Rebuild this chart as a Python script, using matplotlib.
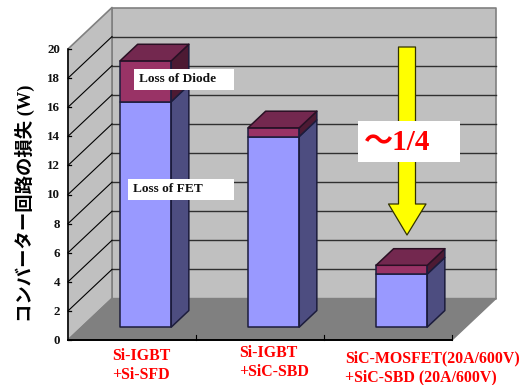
import matplotlib
matplotlib.use('Agg')
import matplotlib.pyplot as plt
from matplotlib.patches import Polygon, Rectangle

categories = ['Si-IGBT\n+Si-SFD', 'Si-IGBT\n+SiC-SBD', 'SiC-MOSFET(20A/600V)\n+SiC-SBD (20A/600V)']
fet_loss = [15.5, 13.1, 3.65]
diode_loss = [2.8, 0.6, 0.6]
y_ticks = [0, 2, 4, 6, 8, 10, 12, 14, 16, 18, 20]

SERIF = 'Liberation Serif'
MIXED = ['Liberation Serif', 'Noto Sans CJK JP']

# chart box in pixels: front bottom left corner, size of one category/one unit, depth shift
X0, Y0 = 68.0, 340.0
CAT_W = 128.0
UNIT = 14.55
DEPTH_X, DEPTH_Y = 44.0, 41.5
BAR_W = 0.4
D1, D2 = 0.31, 0.71


def pr(cat, val, depth=0.0):
    return (X0 + cat * CAT_W + depth * DEPTH_X, Y0 - val * UNIT - depth * DEPTH_Y)


def poly(ax, pts, fc, ec='none', lw=0.0, z=2):
    ax.add_patch(Polygon(pts, closed=True, facecolor=fc, edgecolor=ec, linewidth=lw, zorder=z, joinstyle='round'))


def box_3d(ax, i, low, high, front, side, top, z):
    a, b = i + 0.5 - BAR_W / 2, i + 0.5 + BAR_W / 2
    poly(ax, [pr(a, low, D1), pr(b, low, D1), pr(b, high, D1), pr(a, high, D1)], front, '#1c1c3c', 1.1, z)
    poly(ax, [pr(b, low, D1), pr(b, low, D2), pr(b, high, D2), pr(b, high, D1)], side, '#1c1c3c', 1.1, z)
    if top:
        poly(ax, [pr(a, high, D1), pr(b, high, D1), pr(b, high, D2), pr(a, high, D2)], top, '#2a1024', 1.1, z)


fig = plt.figure(figsize=(5.31, 3.85), dpi=100)
ax = fig.add_axes([0, 0, 1, 1])
ax.set_xlim(0, 531)
ax.set_ylim(385, 0)
ax.axis('off')

# walls and floor
top = y_ticks[-1]
poly(ax, [pr(0, 0, 1), pr(3, 0, 1), pr(3, top, 1), pr(0, top, 1)], '#c0c0c0', '#808080', 1.2, 1)
poly(ax, [pr(0, 0, 0), pr(0, 0, 1), pr(0, top, 1), pr(0, top, 0)], '#c0c0c0', '#808080', 1.2, 1)
poly(ax, [pr(0, 0, 0), pr(3, 0, 0), pr(3, 0, 1), pr(0, 0, 1)], '#808080', '#808080', 1.0, 1)

for v in y_ticks[1:-1]:
    xs, ys = zip(pr(0, v, 1), pr(3, v, 1))
    ax.plot(xs, ys, color='#303030', lw=1.0, zorder=1.5)
for v in y_ticks[1:-1]:
    xs, ys = zip(pr(0, v, 0), pr(0, v, 1))
    ax.plot(xs, ys, color='black', lw=0.8, zorder=1.5)

# axes
xs, ys = zip(pr(0, 0), pr(0, top))
ax.plot(xs, ys, color='black', lw=1.1, zorder=1.6)
xs, ys = zip(pr(0, 0), pr(3, 0))
ax.plot(xs, ys, color='black', lw=1.4, zorder=1.6)
for i in range(1, 4):
    x, y = pr(i, 0)
    ax.plot([x, x], [y, y - 5], color='black', lw=0.8, zorder=1.6)
for v in y_ticks:
    x, y = pr(0, v)
    ax.plot([x, x + 3], [y, y], color='black', lw=0.9, zorder=1.6)
    ax.text(x - 8, y + 1, str(v), ha='right', va='center', family=SERIF, weight='bold', fontsize=9.4, color='#111111', zorder=5)

# bars
for i in range(len(categories)):
    total = fet_loss[i] + diode_loss[i]
    box_3d(ax, i, 0, fet_loss[i], '#9999ff', '#4d4d80', None, 3 + i)
    box_3d(ax, i, fet_loss[i], total, '#993366', '#4d1a33', '#73284f', 3 + i)

# category labels
for label, lx, ly in zip(categories, [112, 239, 345], [365.5, 362.5, 368]):
    ax.text(lx, ly, label, ha='left', va='center', multialignment='left', family=SERIF, weight='bold',
            fontsize=11.4, color='#ff0000', linespacing=1.25, zorder=5)

# y title
ax.text(25, 203, 'コンバーター回路の損失 (W)', rotation=90, ha='center', va='center',
        family=MIXED, weight='bold', fontsize=13.2, color='black', zorder=5)

# arrow
arrow = [(398.5, 47), (415.5, 47), (415.5, 204), (426, 204), (407, 235), (388.5, 204), (398.5, 204)]
poly(ax, arrow, '#ffff00', '#333300', 0.9, 8)

# white label boxes
ax.add_patch(Rectangle((134, 69), 100, 21, facecolor='white', edgecolor='none', zorder=9))
ax.text(139, 79.5, 'Loss of Diode', ha='left', va='center', family=SERIF, weight='bold', fontsize=9.6, color='#111111', zorder=10)
ax.add_patch(Rectangle((128, 179), 106, 21, facecolor='white', edgecolor='none', zorder=9))
ax.text(133, 189.5, 'Loss of FET', ha='left', va='center', family=SERIF, weight='bold', fontsize=9.6, color='#111111', zorder=10)
ax.add_patch(Rectangle((358, 121), 102, 41, facecolor='white', edgecolor='none', zorder=9))
ax.text(364, 142, '～1/4', ha='left', va='center', family=MIXED, weight='bold', fontsize=21, color='#ff0000', zorder=10)

fig.savefig('out.png', dpi=100)
